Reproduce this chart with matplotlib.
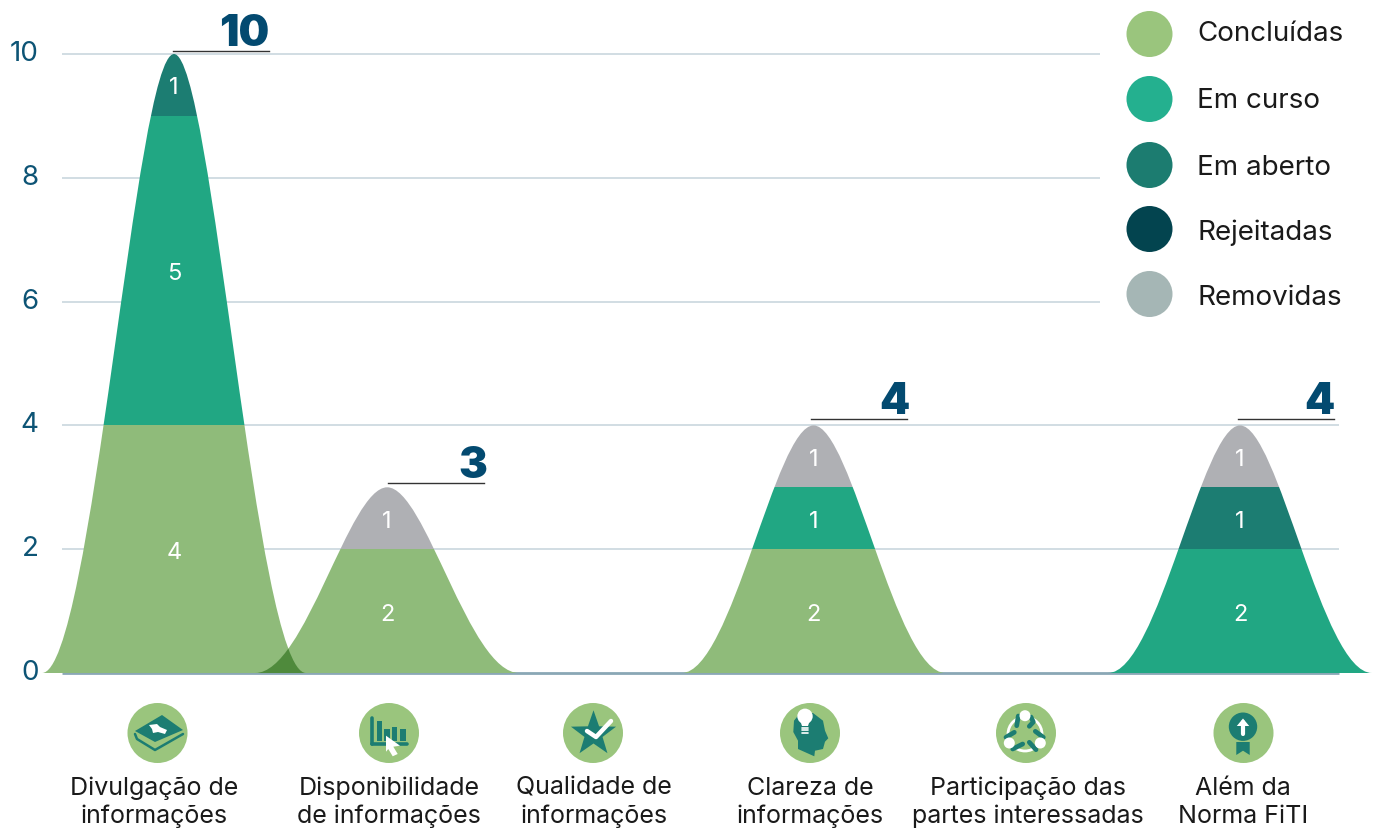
"""
plot.py
Recommendations by requirement and stage, drawn as stacked mountain shapes.
"""
import numpy as np
import matplotlib
matplotlib.use('Agg')
import matplotlib.pyplot as plt
from matplotlib.patches import Circle, PathPatch, Polygon, Rectangle
from matplotlib.path import Path
from matplotlib.transforms import ScaledTranslation

categories = ['Divulgação de\ninformações', 'Disponibilidade\nde informações',
              'Qualidade de\ninformações', 'Clareza de\ninformações',
              'Participação das\npartes interessadas', 'Além da\nNorma FiTI']
stages = ['Concluídas', 'Em curso', 'Em aberto', 'Rejeitadas', 'Removidas']

concluidas = [4, 2, 0, 2, 0, 0]
em_curso = [5, 0, 0, 1, 0, 2]
em_aberto = [1, 0, 0, 0, 0, 1]
rejeitadas = [0, 0, 0, 0, 0, 0]
removidas = [0, 1, 0, 1, 0, 1]

y_ticks = [0, 2, 4, 6, 8, 10]

shape_colors = ['#8fbb7a', '#21a783', '#1c7d72', '#03444f', '#afb0b4']
legend_colors = ['#9ac57d', '#24b08f', '#1c7c70', '#03444f', '#a5b6b5']
overlap_color = '#4f8a3c'
tick_color = '#0d5475'
total_color = '#034a70'
icon_green = '#9ac57d'
icon_teal = '#1c7d72'
FONT = 'Inter'

W, H = 1380, 829
PX_PER_CAT = 213.2
X0_PX = 174
HALF_WIDTH = 132 / PX_PER_CAT
LEFT_PX, BOTTOM_PX, TOP_PX = 62, 674, 55

plt.rcParams['font.family'] = FONT
fig = plt.figure(figsize=(W / 100, H / 100), dpi=100)
ax = fig.add_axes([LEFT_PX / W, 1 - BOTTOM_PX / H, 1 - LEFT_PX / W, (BOTTOM_PX - TOP_PX) / H])
ax.set_xlim((LEFT_PX - X0_PX) / PX_PER_CAT, (W - X0_PX) / PX_PER_CAT)
ax.set_ylim(0, 10)
ax.patch.set_alpha(0)
for spine in ax.spines.values():
    spine.set_visible(False)


def px_x(px):
    return (px - X0_PX) / PX_PER_CAT


def shifted(dx_px, dy_px, base=None):
    # nudge by screen pixels, up is positive
    base = base if base is not None else ax.transData
    return base + ScaledTranslation(dx_px / 100, dy_px / 100, fig.dpi_scale_trans)


def peak_path(center, height):
    # rounded mountain, long flat feet and a tighter top
    foot = HALF_WIDTH * 0.38
    crown = HALF_WIDTH * 0.29
    left, right = center - HALF_WIDTH, center + HALF_WIDTH
    verts = [(left, 0), (left + foot, 0), (center - crown, height), (center, height),
             (center + crown, height), (right - foot, 0), (right, 0), (left, 0)]
    codes = [Path.MOVETO] + [Path.CURVE4] * 6 + [Path.CLOSEPOLY]
    return Path(verts, codes)


# grid lines, the lower ones run further right under the last shape
for tick in y_ticks:
    x_end = 1339 if tick <= 4 else 1100
    color = '#8aa7b5' if tick == 0 else '#c5d3db'
    ax.hlines(tick, px_x(LEFT_PX), px_x(x_end), color=color, lw=2 if tick == 0 else 1.1,
              zorder=1, clip_on=False)

ax.set_yticks(y_ticks)
ax.set_yticklabels([str(t) for t in y_ticks])
ax.tick_params(axis='y', length=0, pad=17, labelsize=20, labelcolor=tick_color)
ax.set_xticks([])
for label in ax.get_yticklabels():
    label.set_transform(label.get_transform() + ScaledTranslation(0, 0.04, fig.dpi_scale_trans))

series = [concluidas, em_curso, em_aberto, rejeitadas, removidas]
totals = np.sum(series, axis=0)
paths = [peak_path(i, t) if t > 0 else None for i, t in enumerate(totals)]

# small per-shape adjustments of the total's rule and number
rule_dx = [-1, 1, 0, -3, 0, -2]
rule_gap = [3, 4, 0, 6, 0, 6]
total_dx = [0, 3, 0, 3, 0, 0]

for i, total in enumerate(totals):
    if total == 0:
        continue
    bottom = 0
    for values, color in zip(series, shape_colors):
        value = values[i]
        if value == 0:
            continue
        patch = PathPatch(paths[i], facecolor=color, edgecolor='none', zorder=2, clip_on=True)
        ax.add_patch(patch)
        band = Rectangle((i - 1, bottom), 2, value, transform=ax.transData)
        patch.set_clip_path(band)
        ax.text(i, bottom + value / 2, str(value), color='white', fontsize=17,
                ha='center', va='center', zorder=5, transform=shifted(0, -2.5))
        bottom += value
    ax.plot([i, i + 96 / PX_PER_CAT], [total, total], color='#333333', lw=1, zorder=4,
            clip_on=False, transform=shifted(rule_dx[i], rule_gap[i]))
    ax.text(i + 96 / PX_PER_CAT, total, str(total), color=total_color, fontsize=31,
            fontweight='black', ha='right', va='baseline', zorder=5, clip_on=False,
            transform=shifted(rule_dx[i] + total_dx[i], rule_gap[i] + 6))

# the first two shapes cross near the floor, that part is darker
overlap = PathPatch(paths[1], facecolor=overlap_color, edgecolor='none', zorder=3)
ax.add_patch(overlap)
overlap.set_clip_path(paths[0], ax.transData)

# pixel layer for legend, icons and category labels
top = fig.add_axes([0, 0, 1, 1])
top.set_xlim(0, W)
top.set_ylim(H, 0)
top.axis('off')
top.patch.set_alpha(0)

legend_y = [35, 100, 166, 230, 295]
legend_baseline = [41, 108, 175, 240, 305]
for name, color, y, base in zip(stages, legend_colors, legend_y, legend_baseline):
    top.add_patch(Circle((1149.5, y), 23, facecolor=color, edgecolor='none'))
    top.text(1197, base, name, fontsize=20, color='#1a1a1a', va='baseline', ha='left')

label_x = [154, 389, 594, 810, 1028, 1243]
icon_x = [157.5, 389, 593, 810, 1026, 1243.5]
for name, x in zip(categories, label_x):
    first, second = name.split('\n')
    top.text(x, 795, first, fontsize=18, color='#1a1a1a', ha='center', va='baseline')
    top.text(x, 823, second, fontsize=18, color='#1a1a1a', ha='center', va='baseline')
for x in icon_x:
    top.add_patch(Circle((x, 734), 30, facecolor=icon_green, edgecolor='none'))


def poly(points, color=icon_teal, **kw):
    top.add_patch(Polygon(points, closed=True, facecolor=color, edgecolor='none', **kw))


def stroke(xs, ys, color=icon_teal, lw=2.5):
    top.plot(xs, ys, color=color, lw=lw, solid_capstyle='round', solid_joinstyle='round')


# book
poly([(162, 716), (183, 731), (155, 743), (135, 732)])
stroke([135, 137, 155, 183], [735, 740, 751, 735], lw=1.8)
poly([(149, 726), (157, 725), (160, 728), (167, 731), (165, 735), (158, 733), (153, 734), (152, 730)],
     'white')

# bar chart with cursor
stroke([372, 372], [719, 745], lw=2.6)
stroke([372, 407], [745, 745], lw=2.6)
for x0, y_top in [(376.7, 722), (384.3, 730), (391.7, 728.3), (400, 730)]:
    top.add_patch(Rectangle((x0, y_top), 5.7, 741.7 - y_top, facecolor=icon_teal, edgecolor='none'))
poly([(386, 736.7), (400, 746.7), (393.3, 747.7), (397.7, 755), (392.7, 757.3), (388.3, 750),
      (386, 752.7)], 'white', zorder=3)

# star with tick
angles = np.radians(-90 + 36 * np.arange(10))
radii = np.where(np.arange(10) % 2 == 0, 23.7, 9.5)
poly(np.column_stack([593.5 + radii * np.cos(angles), 735 + radii * np.sin(angles)]))
stroke([587, 596, 611], [732, 738, 722], color='white', lw=3.2)

# head with bulb
poly([(813, 714), (823, 721.7), (825, 731.7), (828.3, 739.3), (825, 742.7), (823, 750), (815, 751.7),
      (814.3, 757.3), (798, 750), (798, 741.7), (793.3, 733), (794, 721.7), (798, 716.7)])
top.add_patch(Circle((805, 717.3), 7.7, facecolor='white', edgecolor='none', zorder=3))
poly([(800, 721), (810, 721), (808, 727), (802, 727)], 'white', zorder=3)
for y in [728.5, 731, 733.5]:
    stroke([802, 808], [y, y], color='white', lw=1.2)

# three people in a ring
top.add_patch(Circle((1025, 735), 17, facecolor='none', edgecolor='white', lw=2))
for xs, ys in [([1018.3, 1016.7], [717, 726.7]), ([1031, 1033.3, 1029.3], [718, 723, 727.3]),
               ([1006, 1014.3], [738.3, 733.3]), ([1035.3, 1043.3], [732.3, 738.3]),
               ([1012.7, 1022.7], [750, 745]), ([1029.3, 1036], [743.3, 750.7])]:
    stroke(xs, ys, lw=3.4)
for x, y in [(1025, 716.7), (1009.3, 744), (1040.3, 744)]:
    top.add_patch(Circle((x, y), 5.5, facecolor='white', edgecolor='none', zorder=3))

# medal with arrow
top.add_patch(Circle((1243, 727.7), 14.2, facecolor=icon_teal, edgecolor='none'))
poly([(1236.3, 743), (1249.7, 743), (1249.7, 756), (1243, 751.7), (1236.3, 756)])
stroke([1243, 1243], [735, 723], color='white', lw=3)
poly([(1236.8, 727), (1243, 719.5), (1249.2, 727)], 'white')

fig.savefig('out.png', dpi=100)
